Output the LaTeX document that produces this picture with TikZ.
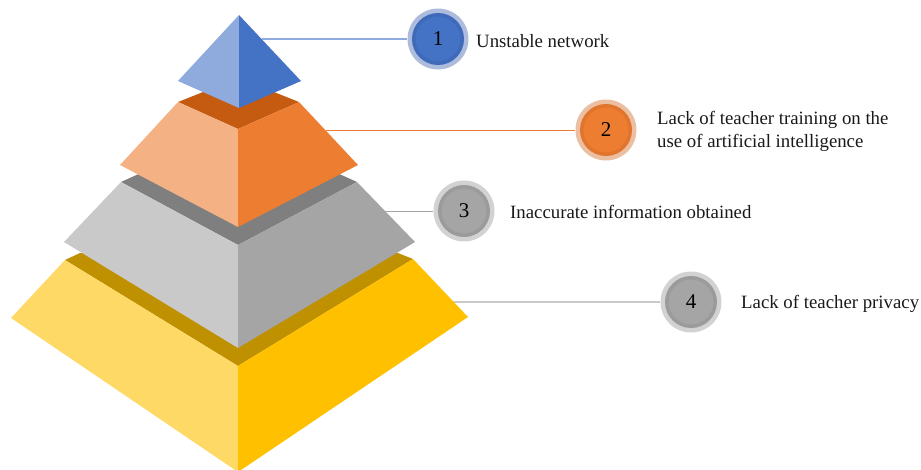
\documentclass[tikz,border=0pt]{standalone}
\usepackage{fontspec}
\setmainfont{Liberation Serif}
\definecolor{blueD}{HTML}{4472C4}
\definecolor{blueL}{HTML}{8FAADC}
\definecolor{blueR}{HTML}{ADBCDC}
\definecolor{blueM}{HTML}{3F6ABA}
\definecolor{orD}{HTML}{ED7D31}
\definecolor{orL}{HTML}{F4B183}
\definecolor{orS}{HTML}{C55A11}
\definecolor{orR}{HTML}{EBBFA2}
\definecolor{orM}{HTML}{E2752D}
\definecolor{grD}{HTML}{A5A5A5}
\definecolor{grL}{HTML}{C9C9C9}
\definecolor{grS}{HTML}{7F7F7F}
\definecolor{grR}{HTML}{D2D2D2}
\definecolor{grM}{HTML}{9B9B9B}
\definecolor{gdD}{HTML}{FFC000}
\definecolor{gdL}{HTML}{FFD966}
\definecolor{gdS}{HTML}{BF9000}
\tikzset{
  x=1pt,y=-1pt,
  lead/.style={line width=1pt},
  badge/.style={circle,minimum size=48.5pt,inner sep=0pt,line width=3.5pt,font=\fontsize{21}{21}\selectfont,text=black},
  halo/.style={circle,minimum size=61pt,inner sep=0pt,draw=none},
  caption/.style={anchor=west,align=left,font=\fontsize{18.8}{23}\selectfont,text=black!90,inner sep=0pt}
}
\begin{document}
\begin{tikzpicture}
\useasboundingbox (0,0) rectangle (921,469);
% leaders (drawn behind the pyramid)
\coordinate (e1) at (262,39);
\coordinate (e2) at (326,130);
\coordinate (e3) at (385,211);
\coordinate (e4) at (453,302);
\node[halo,fill=blueR] (h1) at (438,39) {};
\node[halo,fill=orR] (h2) at (606,130) {};
\node[halo,fill=grR] (h3) at (464,211) {};
\node[halo,fill=grR] (h4) at (691,302) {};
\draw[lead,draw=blueL,line width=1.4pt] (e1) -- (h1);
\draw[lead,draw=orD] (e2) -- (h2);
\draw[lead,draw=grD] (e3) -- (h3);
\draw[lead,draw=grL,line width=1.4pt] (e4) -- (h4);
\node[badge,fill=blueD,draw=blueM] (b1) at (h1) {1};
\node[badge,fill=orD,draw=orM] (b2) at (h2) {2};
\node[badge,fill=grD,draw=grM] (b3) at (h3) {3};
\node[badge,fill=grD,draw=grM] (b4) at (h4) {4};
% gold tier
\fill[gdS] (65,260) -- (80,253) -- (398,253) -- (413,259) -- (238,366) -- cycle;
\fill[gdL] (11,318) -- (65,260) -- (238,366) -- (238,472) -- cycle;
\fill[gdD] (468,317) -- (413,259) -- (238,366) -- (238,472) -- cycle;
% gray tier
\fill[grS] (121,182) -- (143,172) -- (335,172) -- (357,182) -- (238,245) -- cycle;
\fill[grL] (64,242) -- (121,182) -- (238,245) -- (238,348) -- cycle;
\fill[grD] (415,242) -- (357,182) -- (238,245) -- (238,348) -- cycle;
% orange tier
\fill[orS] (178,102) -- (203,92) -- (274,92) -- (299,102) -- (238,129) -- cycle;
\fill[orL] (120,165) -- (178,102) -- (238,129) -- (238,227) -- cycle;
\fill[orD] (358,165) -- (299,102) -- (238,129) -- (238,227) -- cycle;
% blue tier
\fill[blueL] (239,15) -- (178,81) -- (239,108) -- cycle;
\fill[blueD] (239,15) -- (301,81) -- (239,108) -- cycle;
% captions
\node[caption] (t1) at (476,41) {Unstable network};
\node[caption] (t2) at (657,131.5) {Lack of teacher training on the\\use of artificial intelligence};
\node[caption] (t3) at (510,211.5) {Inaccurate information obtained};
\node[caption] (t4) at (741,304) {Lack of teacher privacy};
\end{tikzpicture}
\end{document}
